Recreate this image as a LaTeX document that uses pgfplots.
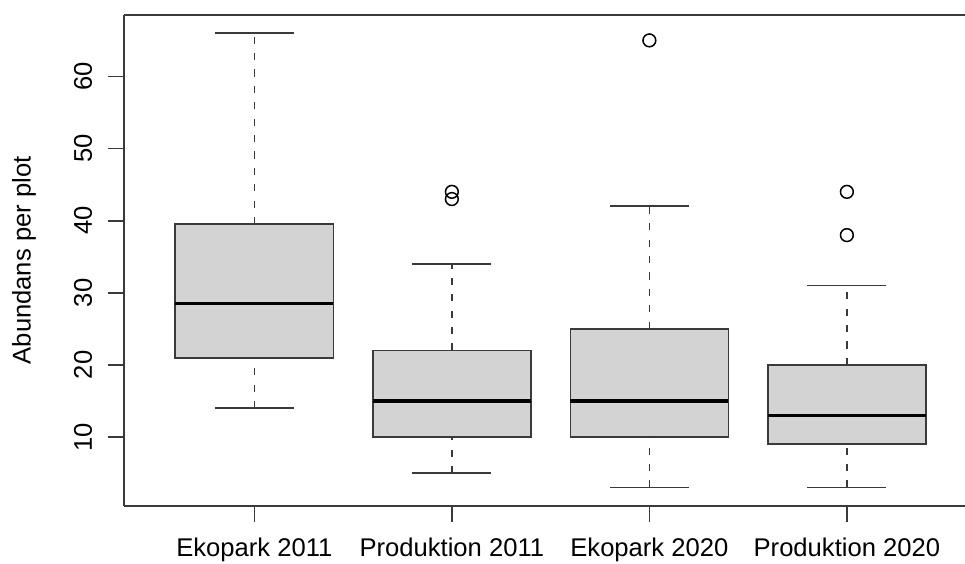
\documentclass[border=0pt]{standalone}
\usepackage{fontspec}
\setmainfont{Liberation Sans}
\usepackage{pgfplots}
\pgfplotsset{compat=1.18}
\usepgfplotslibrary{statistics}

\definecolor{boxfill}{HTML}{D3D3D3}
\definecolor{lineclr}{HTML}{3A3A3A}

\begin{document}
\fontsize{12.8}{15}\selectfont
\begin{tikzpicture}
\useasboundingbox (-62pt,-28.65pt) rectangle (420.5pt,252.85pt);
\begin{axis}[
  scale only axis,
  width=420.5pt, height=245.35pt,
  xmin=0.34, xmax=4.598,
  ymin=0.48, ymax=68.52,
  axis y line*=left,
  axis x line*=bottom,
  axis line style={lineclr, line width=0.85pt},
  every tick/.style={lineclr, line width=0.85pt},
  tick align=outside,
  major tick length=8pt,
  xtick={1,2,3,4},
  xticklabels={Ekopark 2011, Produktion 2011, Ekopark 2020, Produktion 2020},
  ytick={10,20,30,40,50,60},
  /pgf/number format/assume math mode=true,
  yticklabel style={rotate=90, anchor=south},
  yticklabel shift=3.5pt,
  xticklabel style={anchor=north},
  xticklabel shift=3.5pt,
  ylabel={Abundans per plot},
  every axis y label/.style={at={(axis description cs:0,0.5)}, xshift=-50pt, rotate=90, anchor=center},
  clip=false,
  boxplot/draw direction=y,
  boxplot/box extend=0.8,
  boxplot/whisker extend=0.4,
  boxplot/every box/.style={draw=lineclr, fill=boxfill, line width=0.85pt},
  boxplot/every median/.style={black, line width=1.7pt},
  boxplot/draw/lower whisker/.code={%
    \draw[lineclr, line width=0.85pt, dash pattern=on 3.6pt off 4.6pt]
      (boxplot box cs:\pgfplotsboxplotvalue{lower whisker},0.5) --
      (boxplot box cs:\pgfplotsboxplotvalue{lower quartile},0.5);
    \draw[lineclr, line width=0.85pt]
      (boxplot whisker cs:\pgfplotsboxplotvalue{lower whisker},0) --
      (boxplot whisker cs:\pgfplotsboxplotvalue{lower whisker},1);
  },
  boxplot/draw/upper whisker/.code={%
    \draw[lineclr, line width=0.85pt, dash pattern=on 3.6pt off 4.6pt]
      (boxplot box cs:\pgfplotsboxplotvalue{upper quartile},0.5) --
      (boxplot box cs:\pgfplotsboxplotvalue{upper whisker},0.5);
    \draw[lineclr, line width=0.85pt]
      (boxplot whisker cs:\pgfplotsboxplotvalue{upper whisker},0) --
      (boxplot whisker cs:\pgfplotsboxplotvalue{upper whisker},1);
  },
]
% top frame line
\draw[lineclr, line width=0.85pt] (rel axis cs:0,1) -- (rel axis cs:1,1);

% Ekopark 2011
\addplot[mark=o, mark size=3.2pt, mark options={solid, black, line width=0.75pt},
  boxplot prepared={draw position=1, lower whisker=14, lower quartile=21,
    median=28.5, upper quartile=39.5, upper whisker=66}]
  coordinates {};
% Produktion 2011
\addplot[mark=o, mark size=3.2pt, mark options={solid, black, line width=0.75pt},
  boxplot prepared={draw position=2, lower whisker=5, lower quartile=10,
    median=15, upper quartile=22, upper whisker=34}]
  coordinates {(0,43) (0,44)};
% Ekopark 2020
\addplot[mark=o, mark size=3.2pt, mark options={solid, black, line width=0.75pt},
  boxplot prepared={draw position=3, lower whisker=3, lower quartile=10,
    median=15, upper quartile=25, upper whisker=42}]
  coordinates {(0,65)};
% Produktion 2020
\addplot[mark=o, mark size=3.2pt, mark options={solid, black, line width=0.75pt},
  boxplot prepared={draw position=4, lower whisker=3, lower quartile=9,
    median=13, upper quartile=20, upper whisker=31}]
  coordinates {(0,38) (0,44)};
\end{axis}
\end{tikzpicture}
\end{document}
